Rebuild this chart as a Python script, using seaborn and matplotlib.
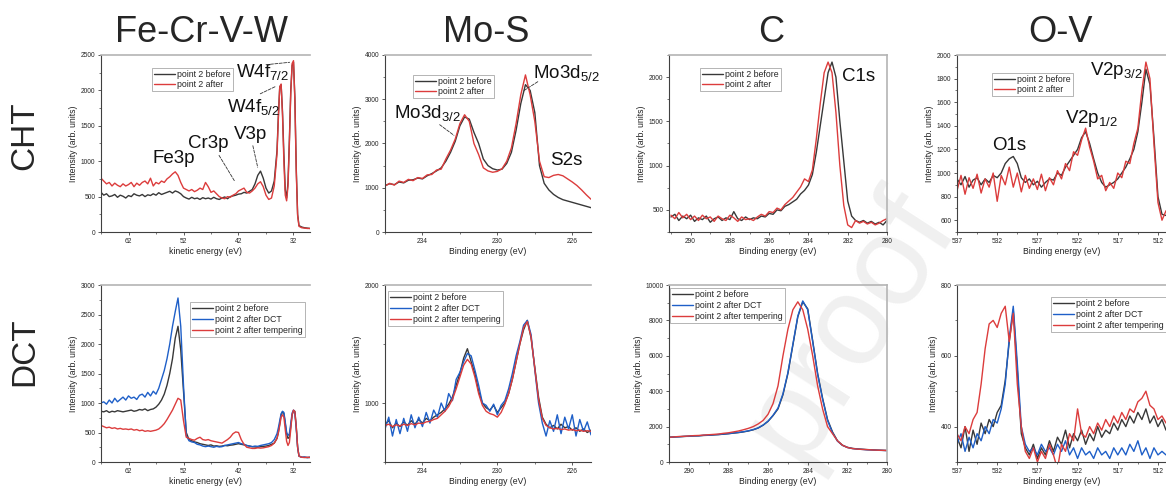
import matplotlib
matplotlib.use("Agg")
import matplotlib.pyplot as plt
from matplotlib.ticker import FixedLocator, MultipleLocator
import seaborn as sns

# ---------------- data ----------------
col_titles = ['Fe-Cr-V-W', 'Mo-S', 'C', 'O-V']
row_titles = ['CHT', 'DCT']

# Fe-Cr-V-W (kinetic energy)
fe_x = [67, 66.5, 66, 65.5, 65, 64.5, 64, 63.5, 63,
        62.5, 62, 61.5, 61, 60.5, 60, 59.5, 59, 58.5, 58,
        57.5, 57, 56.5, 56, 55.5, 55, 54.5, 54, 53.5, 53,
        52.5, 52, 51.5, 51, 50.5, 50, 49.5, 49, 48.5, 48,
        47.5, 47, 46.5, 46, 45.5, 45, 44.5, 44, 43.5, 43,
        42.5, 42, 41.5, 41, 40.5, 40, 39.5, 39, 38.5, 38,
        37.5, 37, 36.5, 36, 35.5, 35,
        34.75, 34.5, 34.25, 34, 33.75, 33.5, 33.25, 33,
        32.75, 32.5, 32.25, 32, 31.75, 31.5, 31.25, 31,
        30.5, 30, 29.5, 29]
fe_cht_before = [560, 520, 540, 500, 510, 530, 490, 520, 505,
                 480, 515, 500, 540, 520, 510, 530, 500, 525, 515,
                 540, 520, 555, 530, 545, 560, 575, 550, 580, 565,
                 540, 500, 480, 465, 490, 470, 480, 460, 485, 470,
                 480, 465, 490, 470, 460, 480, 495, 470, 500, 510,
                 520, 535, 540, 560, 550, 575, 600, 680, 800, 860,
                 760, 620, 550, 580, 720, 1150,
                 1650, 2050, 2080, 1700, 1100, 600, 480, 700,
                 1300, 2000, 2350, 2400, 1900, 900, 250, 90,
                 70, 60, 55, 50]
fe_cht_after = [760, 720, 680, 700, 650, 690, 660, 640, 680,
                650, 670, 700, 640, 690, 660, 700, 720, 680, 760,
                650, 700, 680, 720, 700, 750, 780, 820, 850, 800,
                700, 620, 600, 580, 600, 570, 590, 620, 600, 700,
                640, 560, 580, 540, 500, 480, 470, 500, 490, 520,
                540, 580, 600, 620, 560, 550, 580, 620, 680, 710,
                640, 520, 460, 480, 650, 1100,
                1600, 2050, 2090, 1650, 1000, 520, 440, 650,
                1250, 1950, 2380, 2420, 1850, 850, 230, 80,
                60, 55, 50, 50]
fe_dct_before = [860, 850, 870, 840, 860, 850, 870, 860, 850,
                 860, 870, 880, 860, 870, 890, 880, 900, 870, 890,
                 900, 930, 980, 1050, 1150, 1300, 1500, 1750, 2100, 2300,
                 1900, 1200, 500, 380, 360, 340, 330, 310, 300, 290,
                 280, 290, 270, 275, 265, 270, 280, 275, 285, 290,
                 300, 310, 300, 290, 280, 270, 260, 255, 250, 260,
                 265, 270, 280, 300, 320, 400,
                 500, 650, 800, 850, 820, 650, 480, 400,
                 420, 600, 800, 870, 860, 600, 250, 100,
                 80, 80, 75, 80]
fe_dct_dct = [1000, 1020, 980, 1050, 1000, 1080, 1020, 1060, 1100,
              1050, 1120, 1080, 1100, 1060, 1130, 1150, 1100, 1180, 1120,
              1200, 1150, 1250, 1400, 1550, 1750, 2000, 2300, 2550, 2780,
              2300, 1300, 450, 360, 340, 330, 300, 290, 270, 260,
              270, 260, 250, 265, 255, 260, 280, 290, 300, 310,
              320, 330, 310, 300, 280, 270, 260, 270, 265, 280,
              290, 300, 310, 330, 380, 480,
              580, 700, 820, 860, 840, 680, 500, 450,
              480, 650, 830, 880, 820, 560, 250, 100,
              80, 85, 75, 80]
fe_dct_temp = [620, 600, 580, 590, 570, 580, 560, 570, 555,
               560, 550, 560, 540, 550, 530, 540, 520, 530, 520,
               530, 540, 560, 600, 650, 720, 800, 880, 980, 1080,
               1050, 700, 420, 400, 380, 370, 400, 420, 380, 370,
               380, 360, 350, 340, 330, 320, 350, 380, 420, 480,
               510, 500, 380, 300, 250, 240, 230, 230, 240, 235,
               240, 250, 260, 280, 320, 400,
               500, 620, 760, 800, 760, 550, 350, 280,
               330, 550, 800, 880, 850, 600, 250, 100,
               80, 75, 80, 75]
fe_xticks = [62, 52, 42, 32]

# Mo-S
mo_x = [236, 235.75, 235.5, 235.25, 235, 234.75, 234.5, 234.25, 234,
        233.75, 233.5, 233.25, 233, 232.75, 232.5, 232.25, 232,
        231.75, 231.5, 231.25, 231, 230.75, 230.5, 230.25, 230,
        229.75, 229.5, 229.25, 229, 228.75, 228.5, 228.25, 228,
        227.75, 227.5, 227.25, 227, 226.75, 226.5, 226.25, 226,
        225.75, 225.5, 225.25, 225]
mo_cht_before = [1050, 1090, 1070, 1130, 1110, 1170, 1180, 1220, 1200,
                 1270, 1320, 1380, 1450, 1600, 1800, 2050, 2400,
                 2600, 2550, 2250, 2000, 1650, 1500, 1430, 1400,
                 1420, 1550, 1800, 2300, 2900, 3330, 3200, 2700,
                 1500, 1100, 950, 850, 780, 730, 700, 670,
                 640, 610, 580, 550]
mo_cht_after = [1040, 1100, 1060, 1150, 1120, 1190, 1160, 1230, 1210,
                1290, 1300, 1400, 1420, 1650, 1850, 2100, 2450,
                2650, 2500, 2000, 1750, 1450, 1380, 1350, 1370,
                1430, 1600, 1900, 2450, 3100, 3550, 3100, 2500,
                1600, 1250, 1230, 1280, 1300, 1270, 1200, 1130,
                1050, 950, 840, 740]
mo2_x = [236.0, 235.8, 235.6, 235.4, 235.2, 235.0, 234.8, 234.6, 234.4, 234.2,
         234.0, 233.8, 233.6, 233.4, 233.2, 233.0, 232.8, 232.6, 232.4, 232.2,
         232.0, 231.8, 231.6, 231.4, 231.2, 231.0, 230.8, 230.6, 230.4, 230.2,
         230.0, 229.8, 229.6, 229.4, 229.2, 229.0, 228.8, 228.6, 228.4, 228.2,
         228.0, 227.8, 227.6, 227.4, 227.2, 227.0, 226.8, 226.6, 226.4, 226.2,
         226.0, 225.8, 225.6, 225.4, 225.2, 225.0]
mo_dct_before = [820, 850, 790, 830, 800, 840, 810, 850, 820, 860,
                 830, 870, 850, 880, 900, 920, 950, 990, 1050, 1150,
                 1250, 1380, 1460, 1350, 1250, 1100, 1000, 960, 940, 980,
                 920, 960, 1000, 1080, 1200, 1350, 1500, 1620, 1700, 1550,
                 1300, 1050, 880, 820, 790, 810, 780, 820, 790, 800,
                 770, 790, 760, 780, 750, 770]
mo_dct_dct = [780, 880, 720, 860, 740, 870, 760, 900, 790, 880,
              800, 920, 830, 940, 880, 1000, 930, 1080, 1020, 1200,
              1260, 1350, 1420, 1400, 1280, 1150, 1000, 980, 930, 990,
              900, 980, 1020, 1120, 1250, 1400, 1520, 1660, 1700, 1580,
              1280, 1000, 830, 720, 850, 760, 900, 740, 880, 780,
              900, 720, 860, 760, 840, 730]
mo_dct_temp = [810, 820, 800, 815, 805, 820, 810, 825, 815, 830,
               825, 840, 845, 860, 870, 900, 930, 970, 1030, 1120,
               1220, 1320, 1370, 1330, 1220, 1080, 980, 930, 910, 900,
               880, 920, 990, 1080, 1200, 1350, 1500, 1640, 1690, 1560,
               1290, 1030, 870, 810, 790, 780, 785, 775, 780, 770,
               775, 765, 770, 760, 765, 760]
mo_xticks = [234, 230, 226]

# C
c_x = [291.0, 290.8, 290.6, 290.4, 290.2, 290.0, 289.8, 289.6, 289.4, 289.2,
       289.0, 288.8, 288.6, 288.4, 288.2, 288.0, 287.8, 287.6, 287.4, 287.2,
       287.0, 286.8, 286.6, 286.4, 286.2, 286.0, 285.8, 285.6, 285.4, 285.2,
       285.0, 284.8, 284.6, 284.4, 284.2, 284.0, 283.8, 283.6, 283.4, 283.2,
       283.0, 282.8, 282.6, 282.4, 282.2, 282.0, 281.8, 281.6, 281.4, 281.2,
       281.0, 280.8, 280.6, 280.4, 280.2, 280.0]
c_cht_before = [420, 450, 380, 430, 400, 440, 370, 410, 390, 430,
                360, 400, 420, 380, 410, 390, 480, 400, 380, 420,
                390, 410, 400, 430, 420, 460, 450, 500, 490, 540,
                560, 590, 620, 680, 720, 780, 900, 1150, 1450, 1750,
                2050, 2170, 2000, 1500, 1050, 600, 430, 380, 360, 380,
                350, 370, 340, 360, 330, 380]
c_cht_after = [440, 400, 470, 410, 450, 390, 430, 380, 440, 400,
               420, 370, 430, 400, 380, 440, 410, 370, 420, 390,
               400, 380, 420, 450, 430, 480, 470, 520, 500, 560,
               600, 640, 700, 760, 850, 820, 950, 1300, 1700, 2050,
               2170, 2050, 1600, 1000, 550, 330, 300, 380, 350, 370,
               340, 360, 330, 350, 380, 400]
c2_x = [291, 290.75, 290.5, 290.25, 290, 289.75, 289.5, 289.25, 289,
        288.75, 288.5, 288.25, 288, 287.75, 287.5, 287.25, 287,
        286.75, 286.5, 286.25, 286, 285.75, 285.5, 285.25, 285,
        284.75, 284.5, 284.25, 284, 283.75, 283.5, 283.25, 283,
        282.75, 282.5, 282.25, 282, 281.75, 281.5, 281.25, 281,
        280.75, 280.5, 280.25, 280]
c_dct_before = [1400, 1410, 1430, 1440, 1460, 1470, 1480, 1500, 1510,
                1530, 1550, 1570, 1600, 1630, 1660, 1700, 1750,
                1820, 1920, 2080, 2300, 2620, 3000, 3800, 5000,
                6600, 8200, 9050, 8650, 6850, 5000, 3600, 2400,
                1700, 1200, 950, 830, 770, 740, 720, 700,
                690, 670, 660, 650]
c_dct_dct = [1390, 1420, 1420, 1450, 1450, 1480, 1480, 1510, 1510,
             1540, 1550, 1580, 1600, 1640, 1670, 1710, 1760,
             1830, 1930, 2090, 2310, 2640, 3050, 3850, 5050,
             6650, 8250, 9100, 8600, 6800, 4950, 3550, 2350,
             1650, 1180, 940, 820, 760, 730, 710, 690,
             680, 665, 655, 645]
c_dct_temp = [1390, 1420, 1440, 1450, 1470, 1490, 1500, 1520, 1540,
              1560, 1580, 1620, 1650, 1700, 1750, 1820, 1900,
              2000, 2150, 2350, 2700, 3300, 4300, 6000, 7500,
              8600, 9050, 8600, 7500, 6000, 4300, 3000, 2000,
              1600, 1200, 950, 820, 760, 730, 710, 700,
              680, 670, 660, 650]
c_xticks = [290, 288, 286, 284, 282, 280]

# O-V
ov_x = [537, 536.5, 536, 535.5, 535, 534.5, 534, 533.5, 533, 532.5,
        532, 531.5, 531, 530.5, 530, 529.5, 529, 528.5, 528, 527.5,
        527, 526.5, 526, 525.5, 525, 524.5, 524, 523.5, 523, 522.5,
        522, 521.5, 521, 520.5, 520, 519.5, 519, 518.5, 518, 517.5,
        517, 516.5, 516, 515.5, 515, 514.5, 514, 513.5, 513, 512.5,
        512, 511.5, 511]
ov_cht_before = [950, 900, 970, 880, 940, 960, 900, 950, 920, 980,
                 960, 1000, 1080, 1120, 1140, 1080, 960, 920, 950, 900,
                 930, 880, 920, 950, 940, 1000, 980, 1050, 1100, 1150,
                 1200, 1300, 1350, 1250, 1120, 1000, 920, 880, 900, 920,
                 950, 1000, 1050, 1120, 1200, 1350, 1600, 1880, 1750, 1300,
                 800, 650, 640]
ov_cht_after = [850, 980, 820, 960, 870, 990, 830, 950, 880, 1000,
                760, 980, 900, 1050, 880, 1000, 840, 980, 870, 950,
                860, 990, 850, 960, 900, 1020, 950, 1080, 1020, 1180,
                1150, 1280, 1380, 1220, 1100, 950, 980, 850, 920, 870,
                1000, 960, 1100, 1080, 1250, 1380, 1700, 1940, 1800, 1250,
                750, 600, 680]
ov_dct_before = [370, 340, 400, 330, 390, 350, 410, 380, 420, 400,
                 440, 460, 530, 640, 730, 560, 380, 340, 320, 350,
                 310, 340, 320, 360, 330, 370, 350, 390, 340, 380,
                 360, 390, 350, 380, 360, 400, 370, 390, 380, 410,
                 390, 420, 400, 430, 410, 440, 420, 450, 410, 430,
                 400, 420, 390]
ov_dct_dct = [350, 380, 330, 370, 340, 380, 360, 400, 380, 420,
              410, 450, 520, 650, 740, 580, 400, 350, 330, 340,
              320, 350, 330, 340, 320, 350, 330, 360, 320, 340,
              310, 340, 320, 330, 310, 340, 320, 330, 310, 340,
              320, 340, 320, 350, 330, 360, 320, 340, 310, 340,
              320, 330, 320]
ov_dct_temp = [380, 360, 400, 380, 420, 440, 520, 620, 690, 700,
               680, 720, 740, 640, 720, 520, 400, 330, 310, 340,
               300, 330, 310, 350, 320, 280, 350, 330, 380, 360,
               450, 380, 370, 400, 380, 410, 390, 420, 400, 430,
               410, 440, 420, 450, 440, 470, 480, 500, 460, 450,
               420, 430, 410]
ov_xticks = [537, 532, 527, 522, 517, 512]

# ---------------- style ----------------
sns.set_style("ticks")
plt.rcParams['font.family'] = ['Liberation Sans', 'DejaVu Sans']
plt.rcParams['mathtext.default'] = 'regular'

BLACK = '#383838'
RED = '#dc3c3c'
BLUE = '#1e5fc8'
W, H = 1166, 490

fig = plt.figure(figsize=(W / 100, H / 100), dpi=100)

# faint watermark, kept behind the axes
fig.text(850 / W, 1 - 325 / H, 'proof', rotation=57, fontsize=92,
         color='#f0f0f0', ha='center', va='center', zorder=-1)

KE = 'kinetic energy (eV)'
BE = 'Binding energy (eV)'
L_B, L_A = 'point 2 before', 'point 2 after'
L_D, L_T = 'point 2 after DCT', 'point 2 after tempering'

panels = [
    dict(box=(101, 310, 55, 232), x=fe_x, xlim=(67, 29), ylim=(0, 2500),
         xt=fe_xticks, xm=(5, 2), ymaj=500, ymin=250, xlabel=KE, leg=(0.244, 0.927), sp=0.1,
         lines=[(fe_cht_before, BLACK, L_B), (fe_cht_after, RED, L_A)],
         notes=[('W4f$_{7/2}$', 42.5, 2190, (37.5, 2359, 32.2, 2401)),
                ('W4f$_{5/2}$', 44.0, 1695, (38.5, 1935, 34.7, 2076)),
                ('V3p', 42.9, 1314, (39.5, 1257, 38.4, 876)),
                ('Cr3p', 51.1, 1186, (45.8, 1116, 42.5, 692)),
                ('Fe3p', 57.6, 975, None)]),
    dict(box=(385, 591, 55, 232), x=mo_x, xlim=(236, 225), ylim=(0, 4000),
         xt=mo_xticks, xm=(2, 0), ymaj=1000, ymin=500, xlabel=BE, leg=(0.136, 0.887), sp=0.1,
         lines=[(mo_cht_before, BLACK, L_B), (mo_cht_after, RED, L_A)],
         notes=[('Mo3d$_{5/2}$', 228.1, 3480, (228.7, 3164, 227.7, 3435)),
                ('Mo3d$_{3/2}$', 235.5, 2576, (233.2, 2463, 232.2, 2147)),
                ('S2s', 227.2, 1514, None)]),
    dict(box=(669, 887, 55, 232), x=c_x, xlim=(291.1, 280), ylim=(250, 2250),
         xt=c_xticks, xm=(1, 0), ymaj=500, ymin=250, xlabel=BE, leg=(0.142, 0.927), sp=0.1,
         lines=[(c_cht_before, BLACK, L_B), (c_cht_after, RED, L_A)],
         notes=[('C1s', 282.3, 1951, None)], right=True),
    dict(box=(957, 1166, 55, 232), x=ov_x, xlim=(537, 511), ylim=(500, 2000),
         xt=ov_xticks, xm=(2.5, 2), ymaj=200, ymin=100, xlabel=BE, leg=(0.167, 0.898), sp=0.1,
         lines=[(ov_cht_before, BLACK, L_B), (ov_cht_after, RED, L_A)],
         notes=[('V2p$_{3/2}$', 520.5, 1830, None),
                ('V2p$_{1/2}$', 523.6, 1423, None),
                ('O1s', 532.6, 1194, None)]),
    dict(box=(101, 310, 285, 462), x=fe_x, xlim=(67, 29), ylim=(0, 3000),
         xt=fe_xticks, xm=(5, 2), ymaj=500, ymin=250, xlabel=KE, leg=(0.426, 0.904), sp=0.2,
         lines=[(fe_dct_before, BLACK, L_B), (fe_dct_dct, BLUE, L_D), (fe_dct_temp, RED, L_T)],
         notes=[]),
    dict(box=(385, 591, 285, 462), x=mo2_x, xlim=(236, 225), ylim=(500, 2000),
         xt=mo_xticks, xm=(2, 0), ymaj=1000, ymin=500, xlabel=BE, leg=(0.015, 0.966), sp=0.2,
         lines=[(mo_dct_before, BLACK, L_B), (mo_dct_dct, BLUE, L_D), (mo_dct_temp, RED, L_T)],
         notes=[]),
    dict(box=(669, 887, 285, 462), x=c2_x, xlim=(291.0, 280), ylim=(0, 10000),
         xt=c_xticks, xm=(1, 0), ymaj=2000, ymin=1000, xlabel=BE, leg=(0.005, 0.983), sp=0.2,
         lines=[(c_dct_before, BLACK, L_B), (c_dct_dct, BLUE, L_D), (c_dct_temp, RED, L_T)],
         notes=[], right=True),
    dict(box=(957, 1166, 285, 462), x=ov_x, xlim=(537, 511), ylim=(300, 800),
         xt=ov_xticks, xm=(2.5, 2), ymaj=200, ymin=100, xlabel=BE, leg=(0.45, 0.932), sp=0.2,
         lines=[(ov_dct_before, BLACK, L_B), (ov_dct_dct, BLUE, L_D), (ov_dct_temp, RED, L_T)],
         notes=[]),
]

for p in panels:
    l, r, t, b = p['box']
    ax = fig.add_axes([l / W, 1 - b / H, (r - l) / W, (b - t) / H])
    ax.set_facecolor('none')
    for y, color, label in p['lines']:
        sns.lineplot(x=p['x'], y=y, ax=ax, color=color, lw=1.0, label=label,
                     sort=False, estimator=None, legend=False)
    ax.set_xlim(*p['xlim'])
    ax.set_ylim(*p['ylim'])
    ax.xaxis.set_major_locator(FixedLocator(p['xt']))
    ax.xaxis.set_minor_locator(MultipleLocator(p['xm'][0], offset=p['xm'][1]))
    ax.yaxis.set_major_locator(MultipleLocator(p['ymaj']))
    ax.yaxis.set_minor_locator(MultipleLocator(p['ymin']))
    ax.tick_params(which='major', length=2.5, width=0.6, labelsize=4.8, pad=1.5, color='#404040')
    ax.tick_params(which='minor', length=1.4, width=0.5, color='#404040')
    ax.set_xlabel(p['xlabel'], fontsize=6.2, labelpad=2, color='#222')
    ax.set_ylabel('Intensity (arb. units)', fontsize=6.2, labelpad=2, color='#222')
    for s in ('left', 'bottom'):
        ax.spines[s].set_color('#404040')
        ax.spines[s].set_linewidth(0.8)
    ax.spines['top'].set_color('#b4b4b4')
    ax.spines['top'].set_linewidth(1.2)
    ax.spines['right'].set_visible(p.get('right', False))
    ax.spines['right'].set_color('#b4b4b4')
    ax.spines['right'].set_linewidth(1.2)

    leg = ax.legend(loc='upper left', bbox_to_anchor=p['leg'], fontsize=6.3, frameon=True,
                    fancybox=False, edgecolor='#a8a8a8', framealpha=1, handlelength=2.4,
                    handletextpad=0.25, borderpad=0.25, labelspacing=p['sp'], borderaxespad=0)
    leg.get_frame().set_linewidth(0.6)

    for text, tx, ty, seg in p['notes']:
        ax.text(tx, ty, text, fontsize=13.5, ha='left', va='baseline', color='#111')
        if seg is not None:
            ax.annotate('', xy=(seg[2], seg[3]), xytext=(seg[0], seg[1]),
                        arrowprops=dict(arrowstyle='-', ls='--', lw=0.6, color='#333'),
                        annotation_clip=False)

for title, cx in zip(col_titles, [202, 486, 771, 1060]):
    fig.text(cx / W, 1 - 42 / H, title, fontsize=26, ha='center', va='baseline')
for label, cy in zip(row_titles, [136, 352]):
    fig.text(25 / W, 1 - cy / H, label, fontsize=24, rotation=90, ha='center', va='center')

fig.savefig('out.png', dpi=100)
